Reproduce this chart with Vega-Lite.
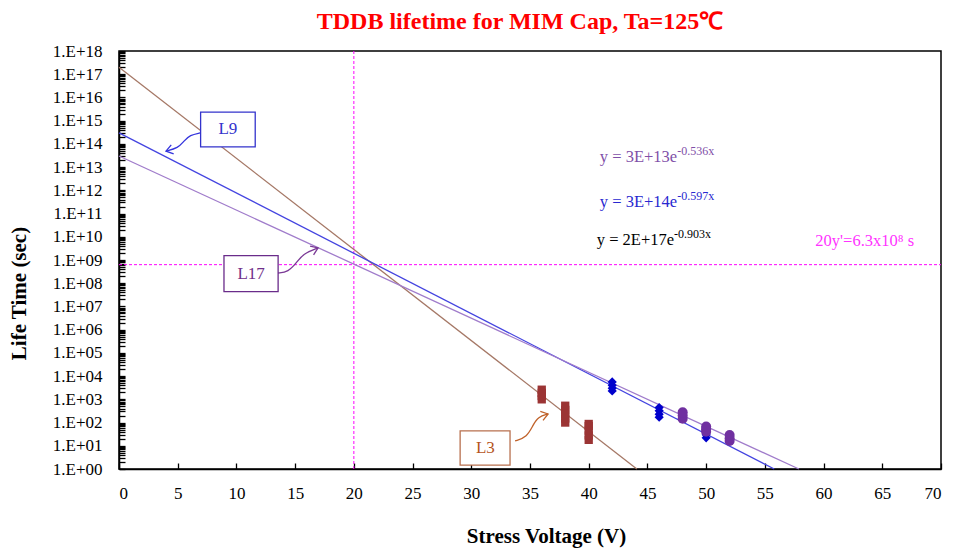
{
  "$schema": "https://vega.github.io/schema/vega-lite/v6.json",
  "width": 822,
  "height": 418,
  "autosize": {"type": "none"},
  "padding": {"left": 119, "top": 51, "right": 13, "bottom": 81},
  "background": "white",
  "config": {
    "view": {"stroke": "#000", "strokeWidth": 1.5},
    "font": "Liberation Serif",
    "text": {"font": "Liberation Serif"}
  },
  "title": {
    "text": "TDDB lifetime for MIM Cap, Ta=125℃",
    "color": "#FF0000",
    "font": "Liberation Serif",
    "fontSize": 24,
    "fontWeight": "bold",
    "anchor": "middle",
    "offset": 8,
    "dx": -10
  },
  "datasets": {
    "fits": [
      {"s": "L3", "x": 0, "y": 2e17},
      {"s": "L3", "x": 44.1, "y": 1},
      {"s": "L9", "x": 0, "y": 3e14},
      {"s": "L9", "x": 55.8, "y": 1},
      {"s": "L17", "x": 0, "y": 3e13},
      {"s": "L17", "x": 57.9, "y": 1}
    ],
    "obs": [
      {"s": "L3", "x": 36, "y": 1000}, {"s": "L3", "x": 36, "y": 1400}, {"s": "L3", "x": 36, "y": 1900}, {"s": "L3", "x": 36, "y": 2600},
      {"s": "L3", "x": 38, "y": 100}, {"s": "L3", "x": 38, "y": 150}, {"s": "L3", "x": 38, "y": 230}, {"s": "L3", "x": 38, "y": 350}, {"s": "L3", "x": 38, "y": 530},
      {"s": "L3", "x": 40, "y": 18}, {"s": "L3", "x": 40, "y": 28}, {"s": "L3", "x": 40, "y": 45}, {"s": "L3", "x": 40, "y": 70}, {"s": "L3", "x": 40, "y": 87},
      {"s": "L9", "x": 42, "y": 2300}, {"s": "L9", "x": 42, "y": 3000}, {"s": "L9", "x": 42, "y": 4000}, {"s": "L9", "x": 42, "y": 5600},
      {"s": "L9", "x": 46, "y": 170}, {"s": "L9", "x": 46, "y": 230}, {"s": "L9", "x": 46, "y": 320}, {"s": "L9", "x": 46, "y": 440},
      {"s": "L9", "x": 50, "y": 22}, {"s": "L9", "x": 50, "y": 30}, {"s": "L9", "x": 50, "y": 42}, {"s": "L9", "x": 50, "y": 58},
      {"s": "L17", "x": 48, "y": 145}, {"s": "L17", "x": 48, "y": 200}, {"s": "L17", "x": 48, "y": 275},
      {"s": "L17", "x": 50, "y": 40}, {"s": "L17", "x": 50, "y": 52}, {"s": "L17", "x": 50, "y": 68},
      {"s": "L17", "x": 52, "y": 16}, {"s": "L17", "x": 52, "y": 21}, {"s": "L17", "x": 52, "y": 29}
    ],
    "boxes": [
      {"s": "L9", "x": 6.95, "x2": 11.6, "y": 2.34e15, "y2": 7.4e13},
      {"s": "L17", "x": 8.94, "x2": 13.55, "y": 1.55e9, "y2": 4.37e7},
      {"s": "L3", "x": 29.05, "x2": 33.3, "y": 43.7, "y2": 1.48}
    ],
    "boxlabels": [
      {"s": "L9", "x": 9.27, "y": 4.2e14},
      {"s": "L17", "x": 11.25, "y": 2.6e8},
      {"s": "L3", "x": 31.2, "y": 8.0}
    ],
    "arrows": [
      {"s": "L9", "i": 0, "x": 6.90, "y": 2.95e14},
      {"s": "L9", "i": 1, "x": 6.05, "y": 2.4e14},
      {"s": "L9", "i": 2, "x": 5.54, "y": 1.35e14},
      {"s": "L9", "i": 3, "x": 5.03, "y": 6.6e13},
      {"s": "L9", "i": 4, "x": 4.00, "y": 4.9e13},
      {"s": "L17", "i": 0, "x": 13.54, "y": 2.75e8},
      {"s": "L17", "i": 1, "x": 14.40, "y": 3.0e8},
      {"s": "L17", "i": 2, "x": 15.16, "y": 8.1e8},
      {"s": "L17", "i": 3, "x": 15.67, "y": 1.82e9},
      {"s": "L17", "i": 4, "x": 16.95, "y": 3.3e9},
      {"s": "L3", "i": 0, "x": 33.73, "y": 16.1},
      {"s": "L3", "i": 1, "x": 34.75, "y": 23.9},
      {"s": "L3", "i": 2, "x": 35.26, "y": 78.5},
      {"s": "L3", "i": 3, "x": 35.69, "y": 174},
      {"s": "L3", "i": 4, "x": 36.54, "y": 234}
    ],
    "eqs": [
      {"s": "L17", "x": 47.53, "y": 1.66e13, "base": "y = 3E+13e", "exp": "-0.536x"},
      {"s": "L9", "x": 47.53, "y": 1.92e11, "base": "y = 3E+14e", "exp": "-0.597x"},
      {"s": "L3", "x": 47.27, "y": 4.45e9, "base": "y = 2E+17e", "exp": "-0.903x"}
    ]
  },
  "encoding": {
    "x": {
      "field": "x",
      "type": "quantitative",
      "scale": {"domain": [0, 70], "nice": false, "zero": false},
      "axis": {
        "values": [0, 5, 10, 15, 20, 25, 30, 35, 40, 45, 50, 55, 60, 65, 70],
        "title": "Stress Voltage (V)",
        "grid": false,
        "domainColor": "#000",
        "domainWidth": 1.5,
        "tickColor": "#000",
        "tickWidth": 1.3,
        "tickSize": -6,
        "labelFont": "Liberation Serif",
        "labelFontSize": 17,
        "labelColor": "#000",
        "labelPadding": 22,
        "titleFont": "Liberation Serif",
        "titleFontSize": 21,
        "titleFontWeight": "bold",
        "titleColor": "#000",
        "titleX": 427,
        "titleY": 67,
        "titleBaseline": "middle"
      }
    },
    "y": {
      "field": "y",
      "type": "quantitative",
      "scale": {"type": "log", "domain": [1, 1e18], "nice": false},
      "axis": {
        "values": [1,2,3,4,5,6,7,8,9,10,20,30,40,50,60,70,80,90,100,200,300,400,500,600,700,800,900,1e3,2e3,3e3,4e3,5e3,6e3,7e3,8e3,9e3,1e4,2e4,3e4,4e4,5e4,6e4,7e4,8e4,9e4,1e5,2e5,3e5,4e5,5e5,6e5,7e5,8e5,9e5,1e6,2e6,3e6,4e6,5e6,6e6,7e6,8e6,9e6,1e7,2e7,3e7,4e7,5e7,6e7,7e7,8e7,9e7,1e8,2e8,3e8,4e8,5e8,6e8,7e8,8e8,9e8,1e9,2e9,3e9,4e9,5e9,6e9,7e9,8e9,9e9,1e10,2e10,3e10,4e10,5e10,6e10,7e10,8e10,9e10,1e11,2e11,3e11,4e11,5e11,6e11,7e11,8e11,9e11,1e12,2e12,3e12,4e12,5e12,6e12,7e12,8e12,9e12,1e13,2e13,3e13,4e13,5e13,6e13,7e13,8e13,9e13,1e14,2e14,3e14,4e14,5e14,6e14,7e14,8e14,9e14,1e15,2e15,3e15,4e15,5e15,6e15,7e15,8e15,9e15,1e16,2e16,3e16,4e16,5e16,6e16,7e16,8e16,9e16,1e17,2e17,3e17,4e17,5e17,6e17,7e17,8e17,9e17,1e18],
        "labelExpr": "abs(log(datum.value)/LN10 - round(log(datum.value)/LN10)) < 0.001 ? ((round(log(datum.value)/LN10) < 10 ? '1.E+0' : '1.E+') + round(log(datum.value)/LN10)) : ''",
        "labelOverlap": false,
        "labelFont": "Liberation Serif",
        "labelFontSize": 17,
        "labelColor": "#000",
        "labelPadding": 23,
        "grid": false,
        "domainColor": "#000",
        "domainWidth": 1.5,
        "tickColor": "#000",
        "tickWidth": 1.3,
        "tickSize": -6,
        "title": "Life Time (sec)",
        "titleFont": "Liberation Serif",
        "titleFontSize": 21,
        "titleFontWeight": "bold",
        "titleColor": "#000",
        "titleX": -100,
        "titleY": 242,
        "titleAngle": 270,
        "titleBaseline": "middle",
        "titleAlign": "center"
      }
    }
  },
  "layer": [
    {
      "data": {"values": [{"x": 20, "y": 1, "y2": 1e18}]},
      "mark": {"type": "rule", "color": "#FF00FF", "strokeWidth": 1, "strokeDash": [3, 2]},
      "encoding": {"y2": {"field": "y2"}}
    },
    {
      "data": {"values": [{"x": 0, "x2": 70, "y": 6.3e8}]},
      "mark": {"type": "rule", "color": "#FF00FF", "strokeWidth": 1, "strokeDash": [3, 2]},
      "encoding": {"x2": {"field": "x2"}}
    },
    {
      "data": {"name": "fits"},
      "mark": {"type": "line", "strokeWidth": 1.3},
      "encoding": {
        "color": {"field": "s", "type": "nominal", "scale": {"domain": ["L3", "L9", "L17"], "range": ["#A57866", "#4444E0", "#A07CCB"]}, "legend": null}
      }
    },
    {
      "data": {"name": "obs"},
      "mark": {"type": "point", "filled": true, "opacity": 1, "strokeWidth": 0},
      "encoding": {
        "color": {"field": "s", "type": "nominal", "scale": {"domain": ["L3", "L9", "L17"], "range": ["#9B3434", "#0000CC", "#7030A0"]}, "legend": null},
        "shape": {"field": "s", "type": "nominal", "scale": {"domain": ["L3", "L9", "L17"], "range": ["square", "diamond", "circle"]}, "legend": null},
        "size": {"field": "s", "type": "nominal", "scale": {"domain": ["L3", "L9", "L17"], "range": [69, 100, 72]}, "legend": null}
      }
    },
    {
      "data": {"name": "arrows"},
      "mark": {"type": "line", "strokeWidth": 1.3, "interpolate": "basis"},
      "encoding": {
        "order": {"field": "i", "type": "quantitative"},
        "color": {"field": "s", "type": "nominal", "scale": {"domain": ["L3", "L9", "L17"], "range": ["#C0622A", "#3333DD", "#7B3A96"]}, "legend": null}
      }
    },
    {
      "data": {"name": "arrows"},
      "transform": [{"filter": "datum.s == 'L9' && datum.i == 4"}],
      "mark": {"type": "point", "shape": "M-1,-0.7L0,0L-1,0.7", "filled": false, "strokeWidth": 1.3, "size": 180, "angle": 165, "color": "#3333DD", "opacity": 1}
    },
    {
      "data": {"name": "arrows"},
      "transform": [{"filter": "datum.s == 'L17' && datum.i == 4"}],
      "mark": {"type": "point", "shape": "M-1,-0.7L0,0L-1,0.7", "filled": false, "strokeWidth": 1.3, "size": 180, "angle": 338, "color": "#7B3A96", "opacity": 1}
    },
    {
      "data": {"name": "arrows"},
      "transform": [{"filter": "datum.s == 'L3' && datum.i == 4"}],
      "mark": {"type": "point", "shape": "M-1,-0.7L0,0L-1,0.7", "filled": false, "strokeWidth": 1.3, "size": 180, "angle": 343, "color": "#C0622A", "opacity": 1}
    },
    {
      "data": {"name": "boxes"},
      "mark": {"type": "rect", "fill": "white", "strokeWidth": 1.3},
      "encoding": {
        "x2": {"field": "x2"},
        "y2": {"field": "y2"},
        "stroke": {"field": "s", "type": "nominal", "scale": {"domain": ["L3", "L9", "L17"], "range": ["#B8704F", "#3333CC", "#6A2C8A"]}, "legend": null}
      }
    },
    {
      "data": {"name": "boxlabels"},
      "mark": {"type": "text", "fontSize": 17, "align": "center", "baseline": "middle", "font": "Liberation Serif"},
      "encoding": {
        "text": {"field": "s"},
        "color": {"field": "s", "type": "nominal", "scale": {"domain": ["L3", "L9", "L17"], "range": ["#B5541C", "#3333CC", "#702F8A"]}, "legend": null}
      }
    },
    {
      "data": {"name": "eqs"},
      "mark": {"type": "text", "fontSize": 16.5, "align": "right", "baseline": "alphabetic", "font": "Liberation Serif"},
      "encoding": {
        "text": {"field": "base"},
        "color": {"field": "s", "type": "nominal", "scale": {"domain": ["L3", "L9", "L17"], "range": ["#000000", "#2828D0", "#7F4FA8"]}, "legend": null}
      }
    },
    {
      "data": {"name": "eqs"},
      "mark": {"type": "text", "fontSize": 12, "align": "left", "baseline": "alphabetic", "dy": -7, "font": "Liberation Serif"},
      "encoding": {
        "text": {"field": "exp"},
        "color": {"field": "s", "type": "nominal", "scale": {"domain": ["L3", "L9", "L17"], "range": ["#000000", "#2828D0", "#7F4FA8"]}, "legend": null}
      }
    },
    {
      "data": {"values": [{"x": 59.3, "y": 4.0e9, "t": "20y'=6.3x10⁸ s"}]},
      "mark": {"type": "text", "fontSize": 16.5, "align": "left", "baseline": "alphabetic", "color": "#FF33FF", "font": "Liberation Serif"},
      "encoding": {"text": {"field": "t"}}
    }
  ],
  "resolve": {"scale": {"color": "independent", "shape": "independent", "size": "independent", "stroke": "independent"}}
}
